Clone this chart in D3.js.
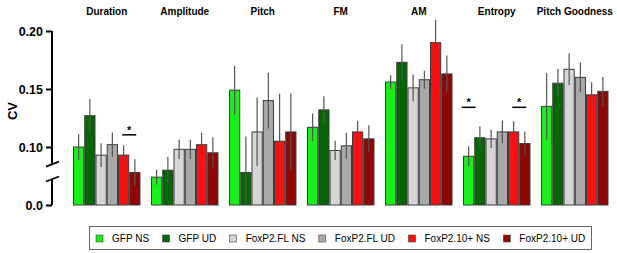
<!DOCTYPE html>
<html lang="en">
<head>
    <meta charset="UTF-8">
    <title>CV by song feature</title>
    <script src="https://d3js.org/d3.v7.min.js"></script>
    <style>
        body {margin:0;background:#fff}
        text {font-family:"Liberation Sans", Arial, sans-serif}
    </style>
</head>
<body>
    <div id="chart"></div>
    <script>
        // song features (groups)
        var metrics = ["Duration", "Amplitude", "Pitch", "FM", "AM", "Entropy", "Pitch Goodness"];
        var seriesNames = ["GFP NS", "GFP UD", "FoxP2.FL NS", "FoxP2.FL UD", "FoxP2.10+ NS", "FoxP2.10+ UD"];
        var seriesColors = ["#19f019", "#056605", "#d6d6d6", "#a9a9a9", "#fa1010", "#8e0606"];

        // mean CV per series, in metric order
        var gfpNS    = [0.100, 0.074, 0.149, 0.117, 0.156, 0.092, 0.135];
        var gfpUD    = [0.127, 0.080, 0.078, 0.132, 0.173, 0.108, 0.155];
        var flNS     = [0.093, 0.098, 0.113, 0.097, 0.151, 0.107, 0.167];
        var flUD     = [0.102, 0.098, 0.140, 0.101, 0.158, 0.113, 0.160];
        var tenNS    = [0.093, 0.102, 0.105, 0.113, 0.190, 0.113, 0.145];
        var tenUD    = [0.078, 0.095, 0.113, 0.107, 0.163, 0.103, 0.148];

        // error (sem)
        var gfpNSErr = [0.0115, 0.0063, 0.021, 0.0118, 0.006, 0.0086, 0.0287];
        var gfpUDErr = [0.0144, 0.0115, 0.031, 0.0118, 0.0155, 0.0098, 0.0124];
        var flNSErr  = [0.0103, 0.0083, 0.0296, 0.0083, 0.0115, 0.0078, 0.0138];
        var flUDErr  = [0.0106, 0.0083, 0.0241, 0.0112, 0.0078, 0.0098, 0.0129];
        var tenNSErr = [0.0086, 0.0106, 0.0408, 0.0095, 0.0198, 0.0092, 0.0109];
        var tenUDErr = [0.0115, 0.0135, 0.0333, 0.0118, 0.0158, 0.0103, 0.0124];

        // y ticks (broken axis: bottom tick sits at 0.05 but reads 0.0)
        var tickValues = [0.05, 0.10, 0.15, 0.20];
        var tickLabels = ["0.0", "0.10", "0.15", "0.20"];
        var breakRange = [0.0724, 0.0853];

        // significance marks: bar index range within group and height
        var sigMarks = [
            {metric: "Duration", a: 4, b: 5, value: 0.1105},
            {metric: "Entropy", a: 0, b: 0, value: 0.1342},
            {metric: "Entropy", a: 4, b: 5, value: 0.1342}
        ];

        var allMeans = [gfpNS, gfpUD, flNS, flUD, tenNS, tenUD];
        var allErrs = [gfpNSErr, gfpUDErr, flNSErr, flUDErr, tenNSErr, tenUDErr];

        var data = [];
        metrics.forEach(function(m, i) {
            seriesNames.forEach(function(s, j) {
                data.push({metric: m, series: s, value: allMeans[j][i], err: allErrs[j][i], color: seriesColors[j]});
            });
        });

        var W = 617, H = 253;
        var svg = d3.select("#chart").append("svg")
            .attr("width", W)
            .attr("height", H);

        var x0 = d3.scaleBand()
            .domain(metrics)
            .range([73, 608.5])
            .paddingInner(0.135)
            .paddingOuter(0);

        var x1 = d3.scaleBand()
            .domain(seriesNames)
            .range([0, x0.bandwidth()]);

        var y = d3.scaleLinear()
            .domain([0.05, 0.20])
            .range([205, 31]);

        // bars
        var groups = svg.selectAll("g.grp")
            .data(metrics)
            .enter()
            .append("g")
            .attr("class", "grp")
            .attr("transform", d => `translate(${x0(d)},0)`);

        groups.selectAll("rect")
            .data(m => data.filter(d => d.metric === m))
            .enter()
            .append("rect")
            .attr("x", d => x1(d.series) + 0.5)
            .attr("y", d => y(d.value))
            .attr("width", x1.bandwidth() - 1)
            .attr("height", d => y(0.05) - y(d.value))
            .attr("fill", d => d.color)
            .attr("stroke", "#3c3c3c")
            .attr("stroke-width", 1);

        groups.selectAll("line.err")
            .data(m => data.filter(d => d.metric === m))
            .enter()
            .append("line")
            .attr("class", "err")
            .attr("x1", d => x1(d.series) + x1.bandwidth() / 2)
            .attr("x2", d => x1(d.series) + x1.bandwidth() / 2)
            .attr("y1", d => y(d.value + d.err))
            .attr("y2", d => y(Math.max(0.05, d.value - d.err)))
            .attr("stroke", "#555")
            .attr("stroke-width", 1.2);

        // group titles
        svg.selectAll("text.title")
            .data(metrics)
            .enter()
            .append("text")
            .attr("class", "title")
            .attr("x", d => x0(d) + x0.bandwidth() / 2)
            .attr("y", 15)
            .attr("text-anchor", "middle")
            .attr("font-size", "10px")
            .attr("font-weight", "bold")
            .text(d => d);

        // significance
        sigMarks.forEach(function(s) {
            var cx = x0(s.metric) + (x1(seriesNames[s.a]) + x1(seriesNames[s.b]) + x1.bandwidth()) / 2;
            svg.append("line")
                .attr("x1", cx - 7).attr("x2", cx + 7)
                .attr("y1", y(s.value)).attr("y2", y(s.value))
                .attr("stroke", "#000").attr("stroke-width", 1.5);
            svg.append("text")
                .attr("x", cx)
                .attr("y", y(s.value) - 1)
                .attr("text-anchor", "middle")
                .attr("font-size", "11px")
                .attr("font-weight", "bold")
                .text("*");
        });

        // y axis
        var yAxis = svg.append("g")
            .attr("transform", "translate(52,0)")
            .call(d3.axisLeft(y)
                .tickValues(tickValues)
                .tickSize(6)
                .tickFormat((d, i) => tickLabels[i]));
        yAxis.select(".domain").remove();
        yAxis.selectAll(".tick line").attr("stroke-width", 2);
        yAxis.selectAll(".tick text")
            .attr("x", -9)
            .attr("font-size", "12.5px")
            .attr("font-weight", "bold")
            .attr("font-family", "Liberation Sans, Arial, sans-serif")
            .attr("fill", "#000");

        yAxis.append("line")
            .attr("x1", 0).attr("x2", 0)
            .attr("y1", y(0.20)).attr("y2", y(breakRange[1]))
            .attr("stroke", "#000").attr("stroke-width", 2);
        yAxis.append("line")
            .attr("x1", 0).attr("x2", 0)
            .attr("y1", y(breakRange[0])).attr("y2", y(0.05))
            .attr("stroke", "#000").attr("stroke-width", 2);
        breakRange.forEach(function(b) {
            yAxis.append("line")
                .attr("x1", -6).attr("x2", 7)
                .attr("y1", y(b) + 2.5).attr("y2", y(b) - 2.5)
                .attr("stroke", "#000").attr("stroke-width", 1.8);
        });

        svg.append("text")
            .attr("transform", "rotate(-90)")
            .attr("x", -111)
            .attr("y", 17)
            .attr("text-anchor", "middle")
            .attr("font-size", "13px")
            .attr("font-weight", "bold")
            .text("CV");

        // legend
        var legend = svg.append("g");
        legend.append("rect")
            .attr("x", 89.5).attr("y", 226.5)
            .attr("width", 502).attr("height", 23)
            .attr("fill", "none")
            .attr("stroke", "#666")
            .attr("stroke-width", 1);

        var lx = 96;
        seriesNames.forEach(function(s, i) {
            legend.append("rect")
                .attr("x", lx).attr("y", 235)
                .attr("width", 7).attr("height", 7)
                .attr("fill", seriesColors[i])
                .attr("stroke", "#444")
                .attr("stroke-width", 0.6);
            var t = legend.append("text")
                .attr("x", lx + 16)
                .attr("y", 242)
                .attr("font-size", "10px")
                .text(s);
            lx += 16 + t.node().getComputedTextLength() + 13.5;
        });
    </script>
</body>
</html>
